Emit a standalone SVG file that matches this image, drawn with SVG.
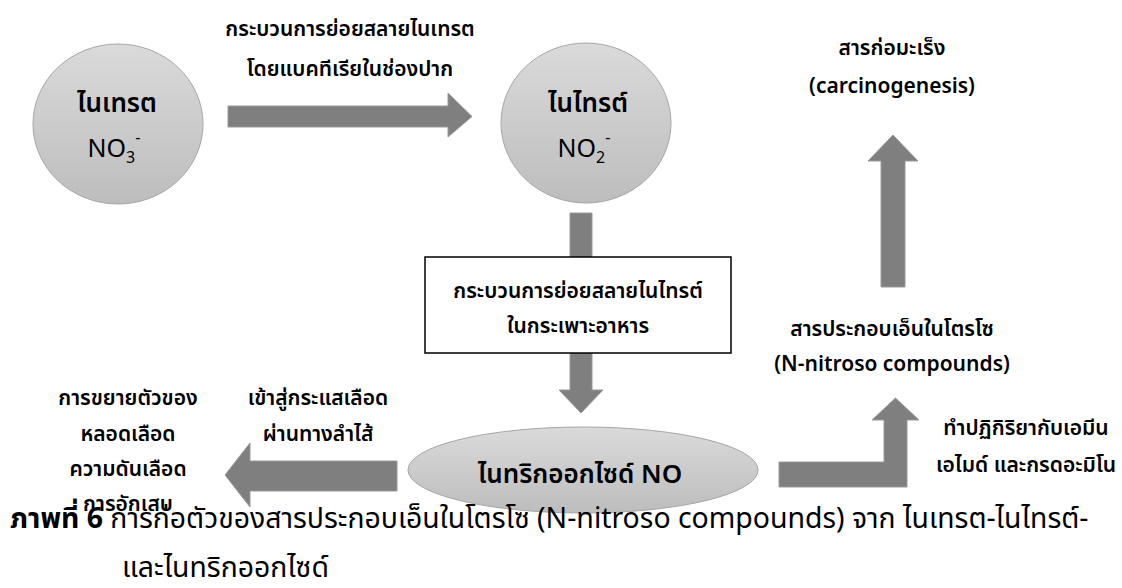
<svg xmlns="http://www.w3.org/2000/svg" width="1122" height="588" viewBox="0 0 1122 588">
<defs>
<linearGradient id="g" x1="0" y1="0" x2="0" y2="1">
<stop offset="0" stop-color="#dadada"/>
<stop offset="1" stop-color="#bdbdbd"/>
</linearGradient>
<style>
.n{fill:url(#g);stroke:#a6a6a6;stroke-width:1}
.a{fill:#7f7f7f;stroke:#9a9a9a;stroke-width:1}
.t{font-family:"Noto Sans Thai","Noto Sans","DejaVu Sans",sans-serif;font-size:21px;font-weight:600;fill:#000;text-anchor:middle}
.big{font-size:26px}
.f{font-family:"Noto Sans","Noto Sans Thai","DejaVu Sans",sans-serif;font-size:25px;font-weight:400;fill:#000;text-anchor:middle}
.c{font-family:"Noto Sans Thai","Noto Sans","DejaVu Sans",sans-serif;font-size:28.4px;fill:#000}
</style>
</defs>
<rect width="1122" height="588" fill="#fff"/>
<g id="connectors">
<polygon class="a" points="228,106 448,106 448,93 472,116.5 448,137 448,127 228,127"/>
<polygon class="a" points="570,213 592,213 592,390 603,390 581,413 559,390 570,390"/>
<polygon class="a" points="881,287 905,287 905,161 918,161 893,135 868,161 881,161"/>
<polygon class="a" points="397,461 250,461 250,443 225,475 250,507 250,491 397,491"/>
<polygon class="a" points="779,462 884,462 884,420 872,420 895.5,398 919,420 907,420 907,487 779,487"/>
</g>
<g id="nitrate">
<ellipse class="n" cx="118" cy="124" rx="85" ry="80"/>
<text class="t big" x="117" y="112">ไนเทรต</text>
<text class="f" x="114" y="157">NO<tspan font-size="16" dy="6">3</tspan><tspan font-size="16" dy="-20">-</tspan></text>
</g>
<g id="label-bacteria">
<text class="t" x="350" y="36">กระบวนการย่อยสลายไนเทรต</text>
<text class="t" x="350" y="76">โดยแบคทีเรียในช่องปาก</text>
</g>
<g id="nitrite">
<ellipse class="n" cx="586" cy="123" rx="85" ry="80"/>
<text class="t big" x="588" y="112">ไนไทรต์</text>
<text class="f" x="584" y="157">NO<tspan font-size="16" dy="6">2</tspan><tspan font-size="16" dy="-20">-</tspan></text>
</g>
<g id="stomach">
<rect x="425" y="257" width="306" height="96" fill="#fff" stroke="#000" stroke-width="1.5"/>
<text class="t" x="578" y="298">กระบวนการย่อยสลายไนไทรต์</text>
<text class="t" x="578" y="333">ในกระเพาะอาหาร</text>
</g>
<g id="no">
<ellipse class="n" cx="583" cy="470" rx="175" ry="43"/>
<text class="t big" x="580" y="483">ไนทริกออกไซด์ NO</text>
</g>
<g id="carcinogen">
<text class="t" x="892" y="55">สารก่อมะเร็ง</text>
<text class="t" x="892" y="93">(carcinogenesis)</text>
</g>
<g id="nitroso">
<text class="t" x="892" y="336">สารประกอบเอ็นในโตรโซ</text>
<text class="t" x="892" y="371">(N-nitroso compounds)</text>
</g>
<g id="label-react">
<text class="t" x="1026" y="435">ทำปฏิกิริยากับเอมีน</text>
<text class="t" x="1026" y="472">เอไมด์ และกรดอะมิโน</text>
</g>
<g id="label-blood">
<text class="t" x="318" y="405">เข้าสู่กระแสเลือด</text>
<text class="t" x="318" y="441">ผ่านทางลำไส้</text>
</g>
<g id="effects">
<text class="t" x="128" y="405">การขยายตัวของ</text>
<text class="t" x="128" y="441">หลอดเลือด</text>
<text class="t" x="128" y="476">ความดันเลือด</text>
<text class="t" x="128" y="511">การอักเสบ</text>
</g>
<g id="caption">
<text class="c" x="10" y="528"><tspan font-weight="700">ภาพที่ 6</tspan> การก่อตัวของสารประกอบเอ็นในโตรโซ (N-nitroso compounds) จาก ไนเทรต-ไนไทรต์-</text>
<text class="c" x="122" y="577">และไนทริกออกไซด์</text>
</g>
</svg>
